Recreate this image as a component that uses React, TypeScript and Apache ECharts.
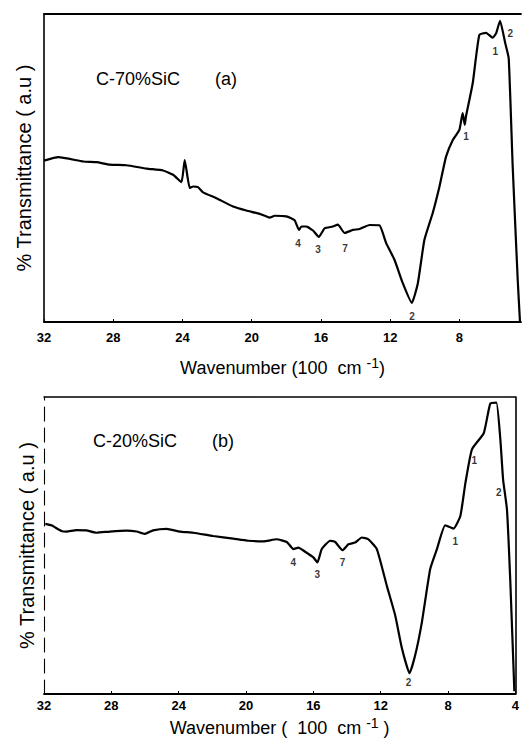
import React, { useEffect, useRef } from "react";
import * as echarts from "echarts";

// Panel (a) C-70%SiC : wavenumber (100 cm-1) and transmittance (a.u.)
const WN_A = [32, 31.17, 29.73, 28.96, 28.2, 27.23, 26.08, 25.12, 24.54, 24.06, 23.87, 23.58, 23.38, 23.1, 22.81, 22.04, 21.08, 20.31, 19.54, 18.96, 18.67, 18.0, 17.52, 17.27, 17.13, 16.85, 16.46, 16.12, 15.79, 15.31, 15.02, 14.63, 14.15, 13.77, 13.19, 12.62, 12.23, 11.75, 11.27, 10.75, 10.4, 10.02, 9.54, 9.15, 8.77, 8.38, 8.0, 7.81, 7.69, 7.62, 7.23, 6.85, 6.46, 6.08, 5.88, 5.65, 5.35, 5.15, 4.92, 4.63, 4.5];
const T_A = [52.4, 53.5, 52.1, 51.9, 51.1, 50.9, 49.8, 49.2, 47.8, 45.4, 52.6, 43.5, 44.0, 43.8, 42.1, 40.2, 37.5, 36.2, 35.1, 33.9, 34.5, 34.3, 33.0, 29.9, 31.0, 31.0, 29.7, 27.6, 30.4, 31.0, 31.6, 28.9, 29.9, 30.2, 31.5, 31.4, 25.6, 20.2, 12.6, 6.2, 12.6, 26.7, 35.4, 44.0, 53.7, 59.1, 62.4, 67.8, 64.0, 66.7, 77.5, 93.2, 93.9, 92.3, 93.7, 97.8, 90.5, 85.6, 50.5, 13.7, 0.2];

// Panel (b) C-20%SiC
const WN_B = [31.92, 31.56, 30.97, 30.67, 30.08, 29.48, 28.89, 28.09, 27.1, 26.5, 26.01, 25.52, 24.72, 23.93, 23.14, 21.95, 20.76, 19.86, 18.97, 18.18, 17.58, 17.19, 16.89, 16.49, 16.0, 15.76, 15.5, 15.0, 14.71, 14.27, 13.92, 13.52, 13.12, 12.73, 12.23, 11.64, 11.14, 10.74, 10.29, 9.95, 9.55, 9.06, 8.66, 8.17, 7.67, 7.27, 6.97, 6.58, 5.88, 5.49, 5.13, 4.89, 4.73, 4.5, 4.3, 4.06];
const T_B = [57.3, 56.8, 54.9, 54.7, 55.2, 55.1, 54.3, 54.7, 55.0, 54.7, 53.9, 55.1, 55.6, 54.7, 54.3, 53.2, 52.3, 51.6, 51.4, 52.1, 51.2, 48.8, 49.3, 47.9, 46.0, 44.3, 48.8, 51.6, 51.2, 48.4, 50.4, 51.0, 52.7, 52.1, 48.8, 36.5, 26.5, 15.4, 7.0, 13.1, 24.3, 42.1, 48.8, 56.8, 55.7, 59.9, 71.0, 82.4, 87.8, 97.8, 98.1, 85.5, 72.2, 62.1, 37.6, 0.9];

// Peak annotations: [wavenumber, transmittance, label]
const PEAKS_A: [number, number, string][] = [
  [5.93, 87.7, "1"], [5.06, 93.8, "2"], [7.61, 60.1, "1"], [17.32, 25.6, "4"],
  [16.16, 23.7, "3"], [14.6, 24.0, "7"], [10.73, 1.9, "2"],
];
const PEAKS_B: [number, number, string][] = [
  [6.44, 78.6, "1"], [4.99, 67.9, "2"], [7.57, 51.2, "1"], [17.19, 44.3, "4"],
  [15.76, 40.1, "3"], [14.27, 44.3, "7"], [10.35, 4.0, "2"],
];

const TICKS_A = [32, 28, 24, 20, 16, 12, 8];
const TITLE_A = "C-70%SiC       (a)";
const TITLE_B = "C-20%SiC       (b)";
const Y_NAME = "% Transmittance ( a.u )";
const X_NAME_A = "Wavenumber (100  cm {sup|-1})";
const X_NAME_B = "Wavenumber (  100  cm {sup|-1} )";

const FONT = "'Liberation Sans', Arial, Helvetica, sans-serif";

export default function App() {
  const ref = useRef<HTMLDivElement>(null);
  useEffect(() => {
    if (!ref.current) return;
    const chart = echarts.init(ref.current, null, { renderer: "svg" });
    const zip = (xs: number[], ys: number[]) => xs.map((x, i) => [x, ys[i]]);
    const peaks = (p: [number, number, string][]) =>
      p.map(([x, y, n]) => ({ value: [x, y], name: n }));
    const solid = (w: number) => ({ onZero: false, lineStyle: { color: "#000", width: w } });
    const supRich = {
      sup: { fontSize: 14, fontFamily: FONT, color: "#000", padding: [0, 0, 10, 0] },
    };
    const hidden = { splitLine: { show: false }, axisTick: { show: false }, axisLabel: { show: false } };
    const titleStyle = { fontSize: 18, fontWeight: "normal", fontFamily: FONT, color: "#000" };
    const peakLabel = {
      show: true, position: "inside", formatter: "{b}", fontSize: 10, fontWeight: "bold",
      color: "#000", fontFamily: FONT,
    };
    const option: any = {
      animation: false,
      backgroundColor: "#fff",
      title: [
        { text: TITLE_A, left: 91, top: 65, textStyle: titleStyle },
        { text: TITLE_B, left: 88, top: 427, textStyle: titleStyle },
      ],
      grid: [
        { left: 44, right: 1, top: 14, height: 308 },
        { left: 44, right: 6, top: 397, height: 299 },
      ],
      xAxis: [
        {
          gridIndex: 0, type: "value", min: 4.44, max: 32, inverse: true, position: "bottom",
          splitLine: { show: false },
          axisLine: solid(1.8),
          axisTick: { show: true, inside: true, length: 3, customValues: TICKS_A, lineStyle: { color: "#000" } },
          axisLabel: { customValues: TICKS_A, margin: 9, fontSize: 13, fontWeight: "bold", color: "#000", fontFamily: FONT },
          name: X_NAME_A,
          nameLocation: "middle", nameGap: 34,
          nameTextStyle: { fontSize: 18, color: "#000", fontFamily: FONT, rich: supRich },
        },
        {
          gridIndex: 0, type: "value", min: 4.44, max: 32, inverse: true, position: "top",
          ...hidden, axisLine: solid(1.8),
        },
        {
          gridIndex: 1, type: "value", min: 4, max: 32, interval: 4, inverse: true, position: "bottom",
          splitLine: { show: false },
          axisLine: solid(1.8),
          axisTick: { show: true, inside: true, length: 3, lineStyle: { color: "#000" } },
          axisLabel: { margin: 5, fontSize: 13, fontWeight: "bold", color: "#000", fontFamily: FONT },
          name: X_NAME_B,
          nameLocation: "middle", nameGap: 22,
          nameTextStyle: { fontSize: 18, color: "#000", fontFamily: FONT, rich: supRich },
        },
        {
          gridIndex: 1, type: "value", min: 4, max: 32, inverse: true, position: "top",
          ...hidden, axisLine: solid(1.5),
        },
      ],
      yAxis: [
        {
          gridIndex: 0, type: "value", min: 0, max: 100, position: "left",
          ...hidden, axisLine: solid(1.6),
          name: Y_NAME, nameLocation: "middle", nameGap: 10,
          nameTextStyle: { fontSize: 20, color: "#000", fontFamily: FONT },
        },
        {
          gridIndex: 1, type: "value", min: 0, max: 100, position: "left",
          ...hidden,
          axisLine: { onZero: false, lineStyle: { color: "#000", width: 1.1, type: [14, 7] } },
          name: Y_NAME, nameLocation: "middle", nameGap: 7,
          nameTextStyle: { fontSize: 20, color: "#000", fontFamily: FONT },
        },
        {
          gridIndex: 1, type: "value", min: 0, max: 100, position: "right",
          ...hidden, axisLine: solid(1.6),
        },
      ],
      series: [
        {
          type: "line", xAxisIndex: 0, yAxisIndex: 0, data: zip(WN_A, T_A),
          showSymbol: false, smooth: 0.15, lineStyle: { color: "#000", width: 2.2 },
        },
        {
          type: "line", xAxisIndex: 2, yAxisIndex: 1, data: zip(WN_B, T_B),
          showSymbol: false, smooth: 0.15, lineStyle: { color: "#000", width: 2.2 },
        },
        {
          type: "scatter", xAxisIndex: 0, yAxisIndex: 0, data: peaks(PEAKS_A), symbolSize: 0,
          label: peakLabel,
        },
        {
          type: "scatter", xAxisIndex: 2, yAxisIndex: 1, data: peaks(PEAKS_B), symbolSize: 0,
          label: peakLabel,
        },
      ],
    };
    chart.setOption(option);
    return () => chart.dispose();
  }, []);
  return (
    <div
      ref={ref}
      style={{ position: "absolute", left: 0, top: 0, width: 522, height: 738, background: "#fff" }}
    />
  );
}
